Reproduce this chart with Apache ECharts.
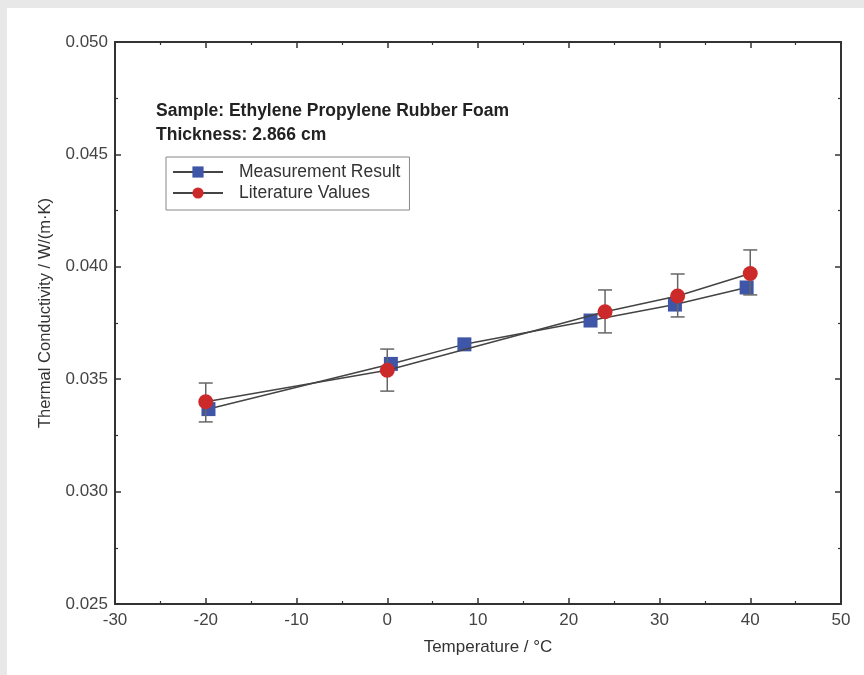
<!DOCTYPE html>
<html>
<head>
<meta charset="utf-8">
<script src="https://cdn.jsdelivr.net/npm/echarts@6/dist/echarts.min.js"></script>
<style>
html,body{margin:0;padding:0;background:#e8e8e8;}
#c{width:864px;height:675px;}
</style>
</head>
<body>
<div id="c"></div>
<script>
// Data
const measTemp = [-19.7, 0.4, 8.5, 22.4, 31.7, 39.6];
const measK = [0.03367, 0.03568, 0.03655, 0.03761, 0.03832, 0.03908];
const litTemp = [-20, 0, 24, 32, 40];
const litK = [0.0340, 0.0354, 0.0380, 0.0387, 0.0397];
const litLow = [0.03310, 0.03447, 0.03706, 0.03777, 0.03875];
const litHigh = [0.03483, 0.03634, 0.03897, 0.03968, 0.04075];
const xTicks = [-30, -20, -10, 0, 10, 20, 30, 40, 50];
const yTicks = [0.025, 0.030, 0.035, 0.040, 0.045, 0.050];
const annotLines = ['Sample: Ethylene Propylene Rubber Foam', 'Thickness: 2.866 cm'];

const FONT = '"Liberation Sans", Arial, Helvetica, sans-serif';
const chart = echarts.init(document.getElementById('c'), null, {renderer: 'canvas'});

function axisCommon() {
  return {
    axisLine: {show: true, onZero: false, lineStyle: {color: '#333', width: 2}},
    axisTick: {show: true, inside: true, length: 6, lineStyle: {color: '#333', width: 1.5}},
    minorTick: {show: true, splitNumber: 2, length: 3, lineStyle: {color: '#333', width: 1.2}},
    splitLine: {show: false},
    minorSplitLine: {show: false}
  };
}

const option = {
  backgroundColor: '#e8e8e8',
  animation: false,
  graphic: [
    {type: 'rect', shape: {x: 7, y: 8, width: 857, height: 667}, style: {fill: '#ffffff'}, z: -10, silent: true},
    {type: 'text', left: 156, top: 102, style: {text: annotLines[0], font: 'bold 17.5px ' + FONT, fill: '#222'}},
    {type: 'text', left: 156, top: 126, style: {text: annotLines[1], font: 'bold 17.5px ' + FONT, fill: '#222'}}
  ],
  grid: {left: 115, top: 42, right: 23, bottom: 71, containLabel: false},
  legend: {
    left: 166, top: 157,
    orient: 'vertical',
    borderColor: '#888', borderWidth: 1,
    padding: [5, 9, 7, 6],
    itemGap: 1,
    itemWidth: 50, itemHeight: 14,
    textStyle: {fontFamily: FONT, fontSize: 17.5, lineHeight: 20, color: '#333', padding: [0, 0, 0, 11]},
    data: ['Measurement Result', 'Literature Values']
  },
  xAxis: [
    Object.assign({
      type: 'value', min: xTicks[0], max: xTicks[xTicks.length - 1], interval: 10,
      name: 'Temperature / °C', nameLocation: 'middle', nameGap: 34.5,
      nameTextStyle: {fontFamily: FONT, fontSize: 17, color: '#333', padding: [0, 0, 0, 20]},
      axisLabel: {fontFamily: FONT, fontSize: 17, color: '#444', margin: 8}
    }, axisCommon()),
    Object.assign({
      type: 'value', position: 'top', min: xTicks[0], max: xTicks[xTicks.length - 1], interval: 10,
      axisLabel: {show: false}
    }, axisCommon())
  ],
  yAxis: [
    Object.assign({
      type: 'value', min: yTicks[0], max: yTicks[yTicks.length - 1], interval: 0.005,
      name: 'Thermal Conductivity / W/(m·K)', nameLocation: 'middle', nameGap: 61,
      nameTextStyle: {fontFamily: FONT, fontSize: 16.5, color: '#333', padding: [0, 0, 0, 20]},
      axisLabel: {fontFamily: FONT, fontSize: 17, color: '#444', margin: 7, formatter: v => v.toFixed(3)}
    }, axisCommon()),
    Object.assign({
      type: 'value', position: 'right', min: yTicks[0], max: yTicks[yTicks.length - 1], interval: 0.005,
      axisLabel: {show: false}
    }, axisCommon())
  ],
  series: [
    {
      name: 'Measurement Result', type: 'line',
      data: measTemp.map((t, i) => [t, measK[i]]),
      symbol: 'rect', symbolSize: 14,
      itemStyle: {color: '#3f55a8'},
      lineStyle: {color: '#444', width: 1.5},
      z: 2
    },
    {
      name: 'errorbars', type: 'custom',
      data: litTemp.map((t, i) => [t, litLow[i], litHigh[i]]),
      renderItem: function (params, api) {
        const lo = api.coord([api.value(0), api.value(1)]);
        const hi = api.coord([api.value(0), api.value(2)]);
        const hw = 7;
        const st = {stroke: '#666', lineWidth: 1.5, fill: null};
        return {
          type: 'group',
          children: [
            {type: 'line', shape: {x1: lo[0], y1: lo[1], x2: hi[0], y2: hi[1]}, style: st},
            {type: 'line', shape: {x1: lo[0] - hw, y1: lo[1], x2: lo[0] + hw, y2: lo[1]}, style: st},
            {type: 'line', shape: {x1: hi[0] - hw, y1: hi[1], x2: hi[0] + hw, y2: hi[1]}, style: st}
          ]
        };
      },
      z: 3, silent: true
    },
    {
      name: 'Literature Values', type: 'line',
      data: litTemp.map((t, i) => [t, litK[i]]),
      symbol: 'circle', symbolSize: 15,
      itemStyle: {color: '#cc2a2a'},
      lineStyle: {color: '#444', width: 1.5},
      z: 4
    }
  ]
};
chart.setOption(option);
</script>
</body>
</html>
